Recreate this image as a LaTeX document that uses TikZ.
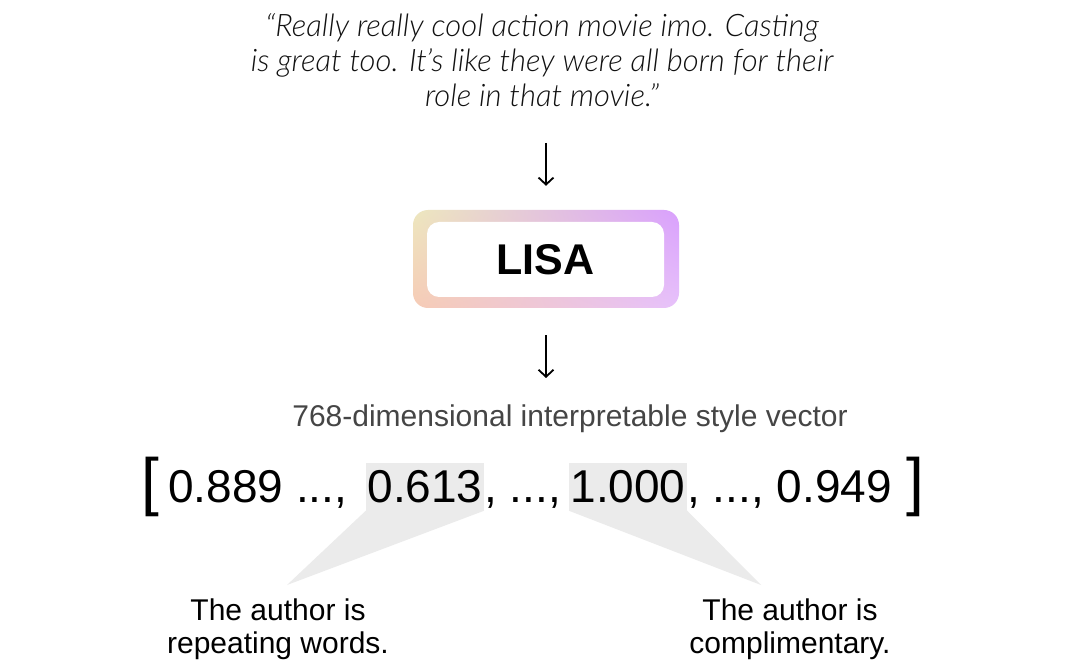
\documentclass[tikz,border=0pt]{standalone}
\usepackage{fontspec}
\setmainfont{Liberation Sans}
\IfFontExistsTF{Lato Light Italic}{\newfontfamily\quotefont{Lato Light Italic}}{\newfontfamily\quotefontbase{Liberation Sans}\def\quotefont{\quotefontbase\itshape}}
\usetikzlibrary{arrows.meta,shadings}
\definecolor{lisaUL}{HTML}{EDE7BE}
\definecolor{lisaLL}{HTML}{F6CBB6}
\definecolor{lisaUR}{HTML}{D9A0FD}
\definecolor{lisaLR}{HTML}{E7C2FB}
\definecolor{hlgray}{HTML}{EBEBEB}
\definecolor{subgray}{HTML}{454545}
\definecolor{quotegray}{HTML}{111111}
\tikzset{
  arr/.style={line width=1.8pt, -{Straight Barb[length=7pt,width=15pt]}},
  quotestyle/.style={font=\quotefont\fontsize{31}{35}\selectfont, align=center, text=quotegray, inner sep=0pt},
  lisaouter/.style={minimum width=266pt, minimum height=98pt, rounded corners=15pt, inner sep=0pt,
    shading=bilinear interpolation, upper left=lisaUL, upper right=lisaUR, lower left=lisaLL, lower right=lisaLR},
  lisainner/.style={fill=white, rounded corners=12pt, minimum width=237pt, minimum height=75pt, inner sep=0pt,
    font=\bfseries\fontsize{43}{43}\selectfont},
  subst/.style={font=\fontsize{30}{30}\selectfont, text=subgray, inner sep=0pt},
  vec/.style={font=\fontsize{46}{46}\selectfont, inner sep=0pt},
  hlbox/.style={fill=hlgray, text height=40pt, text depth=8pt, minimum width=118pt},
  brk/.style={font=\fontsize{64}{64}\selectfont, inner sep=0pt},
  lbl/.style={font=\fontsize{30}{33}\selectfont, align=center, inner sep=0pt},
}
\begin{document}
\begin{tikzpicture}[x=1pt,y=-1pt]
\useasboundingbox[fill=white] (0,0) rectangle (1080,668);
% quote
\node[quotestyle, anchor=base] (quote) at (542,107) {“Really really cool action movie imo. Casting\\is great too. It’s like they were all born for their\\role in that movie.”};
% LISA box
\node[lisaouter, shade] (lisa) at (546,259) {};
\node[lisainner] (lisatxt) at (545.5,259.5) {LISA};
% arrows
\coordinate (a1s) at (546,143);
\coordinate (a2e) at (546,378);
\draw[arr, shorten >=24pt] (a1s) -- (lisa.north);
\draw[arr, shorten <=27pt] (lisa.south) -- (a2e);
% subtitle
\node[subst, anchor=base] (sub) at (570,427) {768-dimensional interpretable style vector};
% vector
\node[brk, anchor=base west] (lb) at (141,503.7) {[};
\node[vec, anchor=base west] (v1) at (168,503) {0.889 ...,};
\node[vec, hlbox, anchor=base] (hl1) at (425,503) {0.613};
\node[vec, anchor=base west] (v2) at (hl1.base east) {, ...,};
\node[vec, hlbox, anchor=base] (hl2) at (628,503) {1.000};
\node[vec, anchor=base west] (v3) at (hl2.base east) {, ..., 0.949};
\node[brk, anchor=base west] (rb) at (906,503.7) {]};
% callouts
\coordinate (ap1) at (287,585);
\coordinate (ap2) at (761,585);
\fill[hlgray] ([yshift=0.5pt]hl1.south west) -- ([yshift=0.5pt]hl1.south east) -- (ap1) -- cycle;
\fill[hlgray] ([yshift=0.5pt]hl2.south west) -- ([yshift=0.5pt]hl2.south east) -- (ap2) -- cycle;
% labels
\node[lbl, anchor=base] (l1) at (278,653) {The author is\\repeating words.};
\node[lbl, anchor=base] (l2) at (790,653) {The author is\\complimentary.};
\end{tikzpicture}
\end{document}
